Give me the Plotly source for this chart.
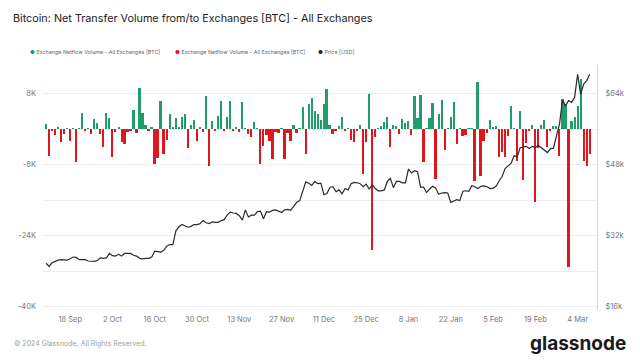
import plotly.graph_objects as go
import pandas as pd

# ---- data ----
start_date = "2023-09-10"

netflow_sep_dec = [
    1200, -6000, -500, -1350, 300, -3000, -1100, 200, -2700, 200,
    -7500, 100, 3700, -450, 100, -1100, 2300, 1300, -1200, -4000,
    3500, 2500, -6300, -750, 450, -2850, -3450, -600, -450, 4200,
    -800, 9200, 3500, 900, -300, 400, -7950, -6450, 6400, -5550,
    -2500, 3300, 450, 2400, 450, 2700, 3300, -4300, 900, 2000,
    -2800, 400, -700, 7350, -8250, 1800, -500, 3000, 6400, -300,
    2800, 6300, -400, 300, -600, 6150, 100, -1100, -1800, 1500,
    200, -7950, -3900, -1350, -2800, -6750, -600, -1000, 100, -6700,
    -900, -2600, 900, -1000, 200, 4950, -5600, 5550, 7000,
]
netflow_dec_mar = [
    4000, 3400, 2100, 5700, 9000, 800, -1100, -500, 750, 2700,
    -500, 100, -2400, -2900, -400, 900, -10100, -2900, 7900, -27150,
    -1800, 100, 750, 1600, 2600, -4000, 1000, 700, -1050, 2250,
    1350, 1900, -1300, 7500, 2400, 7650, -7500, 100, 2550, 5900,
    -11250, 3400, 6450, -4800, 100, 2600, 6100, -3300, 200, -1650,
    -1300, 150, 100, -11600, 10600, -10600, -2800, -900, 1950, 400,
    750, -6400, -5200, -6200, -1650, 5200, 100, -7300, 4100, -11550,
    -3150, -500, 1000, -16400, -4200, 1000, 2000, -4100, -500, 750,
    750, -6000, 6750, 5700, -31000, 1700, 2600, 5250, 11250, -7100,
    -8400, -5600,
]
netflow = netflow_sep_dec + netflow_dec_mar

price_sep = [25.8, 25.1, 25.9, 26.2, 26.5, 26.6, 26.6, 26.5, 26.8, 27.2, 27.1,
             26.6, 26.6, 26.6, 26.3, 26.3, 26.2, 26.4, 27.0, 26.9, 27.0]
price_oct = [28.0, 27.5, 27.4, 27.8, 27.4, 28.0, 28.0, 28.0, 27.6, 27.4, 26.9,
             26.8, 26.9, 26.9, 27.2, 28.5, 28.4, 28.3, 28.7, 29.7, 30.0, 30.0,
             33.1, 34.0, 34.5, 34.2, 33.9, 34.1, 34.5, 34.5, 34.7]
price_nov = [35.4, 34.9, 34.7, 35.1, 35.0, 35.0, 35.4, 35.6, 36.7, 37.3, 37.1,
             37.0, 36.5, 35.5, 37.8, 36.2, 36.6, 36.6, 37.4, 37.5, 35.8, 37.4,
             37.3, 37.7, 37.8, 37.5, 37.2, 37.8, 37.9, 37.7]
price_dec = [38.7, 39.5, 39.9, 42.0, 44.1, 43.8, 43.3, 44.2, 43.7, 43.8, 41.2,
             41.5, 42.9, 43.0, 41.9, 42.3, 41.4, 42.6, 42.3, 43.7, 44.0, 43.9,
             43.7, 43.0, 43.6, 42.5, 43.4, 42.6, 42.1, 42.1, 42.3]
price_jan = [44.2, 44.9, 42.8, 44.2, 44.2, 43.9, 43.9, 47.0, 46.1, 46.6, 46.4,
             42.9, 42.9, 41.7, 42.5, 43.1, 42.7, 41.3, 41.6, 41.7, 41.6, 39.5,
             39.8, 40.1, 39.9, 42.0, 42.1, 42.0, 43.3, 42.9, 42.6]
price_feb = [43.1, 43.2, 43.0, 42.6, 42.7, 43.1, 44.3, 45.3, 47.1, 47.8, 48.3,
             50.0, 49.7, 51.8, 51.9, 52.1, 51.6, 52.1, 51.8, 52.3, 51.8, 51.3,
             50.7, 51.6, 51.7, 54.5, 57.1, 62.5, 61.2]
price_mar = [62.4, 62.0, 63.1, 68.3, 63.8, 66.1, 66.9, 68.3]
price_k = price_sep + price_oct + price_nov + price_dec + price_jan + price_feb + price_mar
price = [p * 1000 for p in price_k]

n = min(len(netflow), len(price))
dates = pd.date_range(start_date, periods=n, freq="D")
netflow = netflow[:n]
price = price[:n]

pos_x = [d for d, v in zip(dates, netflow) if v >= 0]
pos_y = [v for v in netflow if v >= 0]
neg_x = [d for d, v in zip(dates, netflow) if v < 0]
neg_y = [v for v in netflow if v < 0]

left_ticks = [-40000, -32000, -24000, -16000, -8000, 0, 8000]
left_text = ["-40K", "", "-24K", "", "-8K", "", "8K"]
right_ticks = [16000, 32000, 48000, 64000]
right_text = ["$16k", "$32k", "$48k", "$64k"]

GREEN = "#1f9e6a"
RED = "#e0161c"
BLACK = "#2b2b2b"
FONT = "Inter"

bar_w = 0.66 * 86400000

fig = go.Figure()
fig.add_trace(go.Bar(x=pos_x, y=pos_y, marker_color=GREEN, marker_line_width=0,
                     width=bar_w, name="Exchange Netflow Volume - All Exchanges [BTC]",
                     showlegend=False))
fig.add_trace(go.Bar(x=neg_x, y=neg_y, marker_color=RED, marker_line_width=0,
                     width=bar_w, name="Exchange Netflow Volume - All Exchanges [BTC]",
                     showlegend=False))
fig.add_trace(go.Scatter(x=dates, y=price, yaxis="y2", mode="lines",
                         line=dict(color=BLACK, width=1.2), name="Price [USD]",
                         showlegend=False))

# plot area in pixels
L, R, T, B = 43, 43, 65, 50
W, H = 640, 360
pw, ph = W - L - R, H - T - B

def px(xp):
    return (xp - L) / pw

def py(yp):
    return (H - B - yp) / ph

legend_items = [
    (28, GREEN, "Exchange Netflow Volume - All Exchanges [BTC]"),
    (173, RED, "Exchange Netflow Volume - All Exchanges [BTC]"),
    (316, BLACK, "Price [USD]"),
]
annotations = []
for xp, col, label in legend_items:
    annotations.append(dict(
        xref="paper", yref="paper", x=px(xp), y=py(52), xanchor="left", yanchor="middle",
        text=f"<span style='color:{col}'>●</span> {label}", showarrow=False,
        font=dict(family=FONT, size=5.4, color="#666")))
annotations.append(dict(
    xref="paper", yref="paper", x=px(12), y=py(343), xanchor="left", yanchor="middle",
    text="© 2024 Glassnode. All Rights Reserved.", showarrow=False,
    font=dict(family=FONT, size=7, color="#a0a0a0")))
annotations.append(dict(
    xref="paper", yref="paper", x=px(628), y=py(343), xanchor="right", yanchor="middle",
    text="<b>glassnode</b>", showarrow=False,
    font=dict(family=FONT, size=19, color="#1a1a1a")))

fig.update_layout(
    width=W, height=H,
    margin=dict(l=L, r=R, t=T, b=B),
    paper_bgcolor="white", plot_bgcolor="white",
    barmode="overlay", bargap=0,
    showlegend=False,
    title=dict(text="Bitcoin: Net Transfer Volume from/to Exchanges [BTC] - All Exchanges",
               x=13 / W, y=1 - 18 / H, xref="container", yref="container",
               xanchor="left", yanchor="middle",
               font=dict(family=FONT, size=10.8, color="#222")),
    xaxis=dict(type="date", range=["2023-09-09", "2024-03-10 10:00"],
               tick0="2023-09-18", dtick=14 * 86400000, tickformat="%-d %b",
               showgrid=False, zeroline=False, showline=False, ticks="",
               ticklabelstandoff=3,
               tickfont=dict(family=FONT, size=7.5, color="#777")),
    yaxis=dict(range=[-40725, 14400], tickvals=left_ticks, ticktext=left_text,
               showgrid=True, gridcolor="#ececec", gridwidth=1, zeroline=False,
               showline=False, ticks="", ticklabelstandoff=6,
               tickfont=dict(family=FONT, size=7.5, color="#777")),
    yaxis2=dict(range=[15275, 70400], overlaying="y", side="right",
                tickvals=right_ticks, ticktext=right_text, showgrid=False,
                zeroline=False, showline=True, linecolor="#d8d8d8", linewidth=1,
                ticks="", ticklabelstandoff=6,
                tickfont=dict(family=FONT, size=7.5, color="#777")),
    annotations=annotations,
)

fig.write_html("out.html", config={"displayModeBar": False},
               post_script="document.body.style.margin='0';document.body.style.padding='0';")
